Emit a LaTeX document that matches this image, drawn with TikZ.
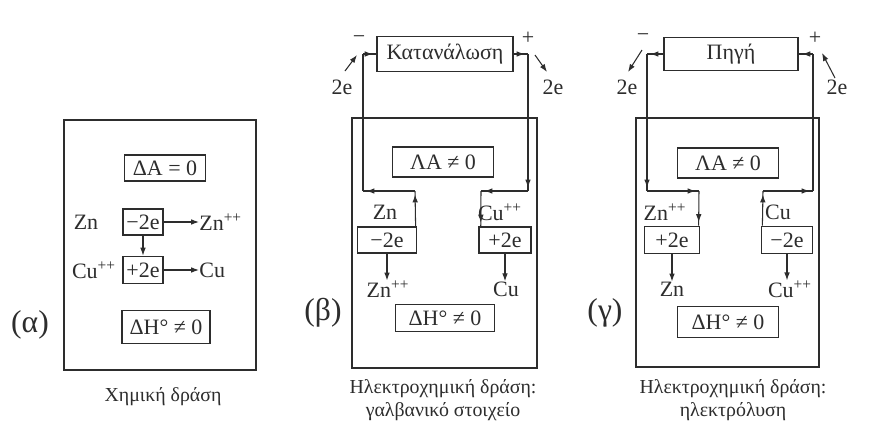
\documentclass[tikz,border=0pt]{standalone}
\usepackage{fontspec}
\setmainfont{Liberation Serif}
\usetikzlibrary{arrows.meta,decorations.markings}
\definecolor{ink}{RGB}{45,45,45}
\tikzset{
  >={Latex[length=4.5pt,width=3.2pt]},
  frame/.style={draw=ink,line width=1.3pt},
  box/.style 2 args={draw=ink,line width=1pt,inner sep=0pt,text=ink,
    minimum width=#1,minimum height=#2,font=\fontsize{12.5}{15}\selectfont},
  lbl/.style={inner sep=0pt,text=ink,font=\fontsize{12.5}{15}\selectfont},
  captxt/.style={align=center,text=ink,font=\fontsize{11.3}{13.5}\selectfont},
  tagl/.style={inner sep=0pt,text=ink,font=\fontsize{18}{20}\selectfont},
  wire/.style={ink,line width=0.6pt},
  seg/.style={wire,postaction={decorate},
    decoration={markings,mark=at position -2pt with {\arrow{Latex[length=4.5pt,width=3.2pt]}}}},
}
\begin{document}
\begin{tikzpicture}[x=0.02cm,y=-0.02cm]
  \fill[white] (0,0) rectangle (879,434);
  \useasboundingbox (0,0) rectangle (879,434);

  % (alpha) chemical action
  \draw[frame] (64,120) rectangle (256,370);
  \node[box={1.62cm}{0.52cm}] (dAa) at (165,168) {ΔA = 0};
  \node[box={0.8cm}{0.52cm}] (oxa) at (143,222) {−2e};
  \node[box={0.8cm}{0.54cm}] (reda) at (143,270) {+2e};
  \node[lbl] (zna) at (86,222) {Zn};
  \node[lbl,anchor=west] (znia) at (199,222) {Zn\textsuperscript{++}};
  \node[lbl] (cuia) at (94,270) {Cu\textsuperscript{++}};
  \node[lbl,anchor=west] (cua) at (199,270) {Cu};
  \draw[wire,->] (oxa) -- (reda);
  \draw[wire,->] (oxa) -- (oxa.east -| znia.west);
  \draw[wire,->] (reda) -- (reda.east -| cua.west);
  \node[box={1.76cm}{0.66cm}] (dHa) at (166,327) {ΔH° ≠ 0};
  \node[tagl] (ta) at (30,325) {(α)};
  \node[captxt] (ca) at (163,397) {Χημική δράση};

  % (beta) galvanic cell
  \draw[frame] (352,118) rectangle (537,368);
  \node[box={2.72cm}{0.7cm}] (load) at (445,54) {Κατανάλωση};
  \node[box={2.02cm}{0.6cm}] (dAb) at (443,162) {ΛA ≠ 0};
  \node[box={1.18cm}{0.52cm}] (oxb) at (387,240) {−2e};
  \node[box={1.04cm}{0.52cm}] (redb) at (505,240) {+2e};
  \node[lbl] (znb) at (385,212) {Zn};
  \node[lbl] (cuib) at (500,212) {Cu\textsuperscript{++}};
  \node[lbl] (znib) at (388,289) {Zn\textsuperscript{++}};
  \node[lbl] (cub) at (506,289) {Cu};
  \draw[wire,->] (oxb.south) -- (oxb.south |- znib.north);
  \draw[wire,->] (redb.south) -- (redb.south |- cub.north);
  \node[box={1.98cm}{0.54cm}] (dHb) at (445,318) {ΔH° ≠ 0};
  \node[tagl] (tb) at (323,313) {(β)};
  \node[captxt] (cb) at (443,400) {Ηλεκτροχημική δράση:\\γαλβανικό στοιχείο};

  \coordinate (b0) at ([xshift=-1pt]oxb.north east);
  \coordinate (b1) at (415,191);
  \coordinate (b2) at (363,191);
  \coordinate (b3) at (363,54);
  \coordinate (b4) at (528,54);
  \coordinate (b5) at (528,191);
  \coordinate (b6) at (481,191);
  \coordinate (b7) at ([xshift=1.5pt]redb.north west);
  \draw[seg] (b0) -- (b1);
  \draw[seg] (b1) -- (b2);
  \draw[wire] (b2) -- (b3);
  \draw[seg] (b3) -- (load.west);
  \draw[seg] (load.east) -- (b4);
  \draw[seg] (b4) -- (b5);
  \draw[seg] (b5) -- (b6);
  \draw[seg] (b6) -- (b7);

  \node[lbl] (mb) at (359,40) {−};
  \node[lbl] (eb1) at (342,87) {2e};
  \coordinate (eb1s) at (345,71);
  \coordinate (eb1e) at (357,55);
  \draw[wire,->] (eb1s) -- (eb1e);
  \node[lbl] (pb) at (528,38) {+};
  \node[lbl] (eb2) at (553,87) {2e};
  \coordinate (eb2s) at (535,55);
  \coordinate (eb2e) at (547,72);
  \draw[wire,->] (eb2s) -- (eb2e);

  % (gamma) electrolysis
  \draw[frame] (636,118) rectangle (819,367);
  \node[box={2.68cm}{0.66cm}] (src) at (731,54) {Πηγή};
  \node[box={2.02cm}{0.6cm}] (dAc) at (728,163) {ΛA ≠ 0};
  \node[box={1.1cm}{0.54cm}] (redc) at (672,240) {+2e};
  \node[box={1.02cm}{0.54cm}] (oxc) at (787,240) {−2e};
  \node[lbl] (znic) at (665,212) {Zn\textsuperscript{++}};
  \node[lbl] (cuc) at (778,212) {Cu};
  \node[lbl] (znc) at (672,289) {Zn};
  \node[lbl] (cuic) at (790,289) {Cu\textsuperscript{++}};
  \draw[wire,->] (redc.south) -- (redc.south |- znc.north);
  \draw[wire,->] (oxc.south) -- (oxc.south |- cuic.north);
  \node[box={2.02cm}{0.62cm}] (dHc) at (728,322) {ΔH° ≠ 0};
  \node[tagl] (tc) at (605,313) {(γ)};
  \node[captxt] (cc) at (733,400) {Ηλεκτροχημική δράση:\\ηλεκτρόλυση};

  \coordinate (c1) at (647,54);
  \coordinate (c2) at (647,191);
  \coordinate (c3) at (699,191);
  \coordinate (c4) at ([xshift=-1pt]redc.north east);
  \coordinate (c5) at ([xshift=1pt]oxc.north west);
  \coordinate (c6) at (763,191);
  \coordinate (c7) at (813,191);
  \coordinate (c8) at (813,54);
  \draw[seg] (src.west) -- (c1);
  \draw[seg] (c1) -- (c2);
  \draw[seg] (c2) -- (c3);
  \draw[seg] (c3) -- (c4);
  \draw[seg] (c5) -- (c6);
  \draw[seg] (c6) -- (c7);
  \draw[wire] (c7) -- (c8);
  \draw[seg] (c8) -- (src.east);

  \node[lbl] (mc) at (643,38) {−};
  \node[lbl] (ec1) at (627,87) {2e};
  \coordinate (ec1s) at (642,50);
  \coordinate (ec1e) at (628,72);
  \draw[wire,->] (ec1s) -- (ec1e);
  \node[lbl] (pc) at (815,38) {+};
  \node[lbl] (ec2) at (837,87) {2e};
  \coordinate (ec2s) at (835,78);
  \coordinate (ec2e) at (822,53);
  \draw[wire,->] (ec2s) -- (ec2e);
\end{tikzpicture}
\end{document}
